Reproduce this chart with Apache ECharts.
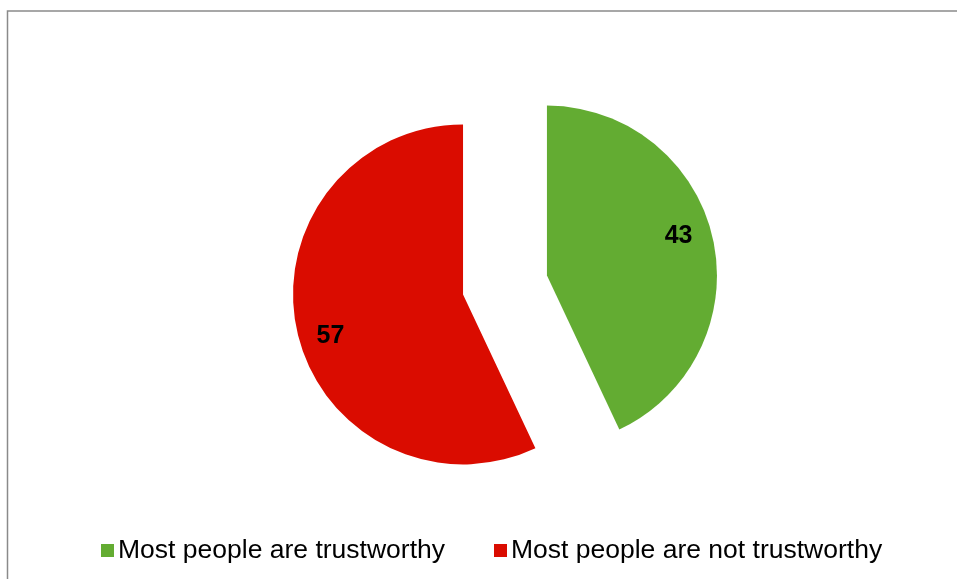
<!DOCTYPE html>
<html>
<head>
<meta charset="utf-8">
<script src="https://cdn.jsdelivr.net/npm/echarts@6/dist/echarts.min.js"></script>
<style>
  html, body { margin: 0; padding: 0; background: #fff; }
  #chart { width: 957px; height: 579px; }
</style>
</head>
<body>
<div id="chart"></div>
<script>
// Survey answers: share of respondents per answer
const categories = ['Most people are trustworthy', 'Most people are not trustworthy'];
const values = [43, 57];
const colors = ['#63AC32', '#DA0C00'];

const pieData = categories.map((name, i) => ({
  name: name,
  value: values[i],
  selected: true,
  itemStyle: { color: colors[i] }
}));

// Nudges for the value text inside each exploded slice
const labelNudge = [[-6, -9], [5, 11]];

// Label carrier ring: transparent, places the value text further out along each slice
const labelData = categories.map((name, i) => ({
  name: name,
  value: values[i],
  selected: true
}));

const center = [505, 285];
const offset = 43;

const chart = echarts.init(document.getElementById('chart'), null, { renderer: 'canvas' });
chart.setOption({
  animation: false,
  backgroundColor: '#ffffff',
  graphic: [
    {
      type: 'polyline',
      shape: { points: [[7.5, 579], [7.5, 11], [957, 11]] },
      style: { stroke: '#8a8a8a', lineWidth: 1.5, fill: null },
      silent: true
    }
  ],
  legend: {
    data: categories,
    left: 96,
    top: 532,
    icon: 'rect',
    itemWidth: 13,
    itemHeight: 13,
    itemGap: 49,
    selectedMode: false,
    textStyle: {
      fontFamily: 'Liberation Sans, Arial, sans-serif',
      fontSize: 26.5,
      color: '#000',
      padding: [0, 0, 0, -1]
    }
  },
  series: [
    {
      type: 'pie',
      center: center,
      radius: [0, 170],
      startAngle: 90,
      clockwise: true,
      selectedMode: 'multiple',
      selectedOffset: offset,
      label: { show: false },
      labelLine: { show: false },
      emphasis: { disabled: true },
      itemStyle: { borderWidth: 0 },
      data: pieData
    },
    {
      type: 'pie',
      center: center,
      radius: [106, 170],
      startAngle: 90,
      clockwise: true,
      selectedMode: 'multiple',
      selectedOffset: offset,
      silent: true,
      itemStyle: { color: 'rgba(0,0,0,0)', borderWidth: 0 },
      emphasis: { disabled: true },
      labelLine: { show: false },
      label: {
        show: true,
        position: 'inside',
        formatter: '{c}',
        color: '#000',
        fontWeight: 'bold',
        fontSize: 25,
        fontFamily: 'Liberation Sans, Arial, sans-serif'
      },
      labelLayout: function (params) {
        const n = labelNudge[params.dataIndex];
        return { dx: n[0], dy: n[1] };
      },
      data: labelData
    }
  ]
});
</script>
</body>
</html>
